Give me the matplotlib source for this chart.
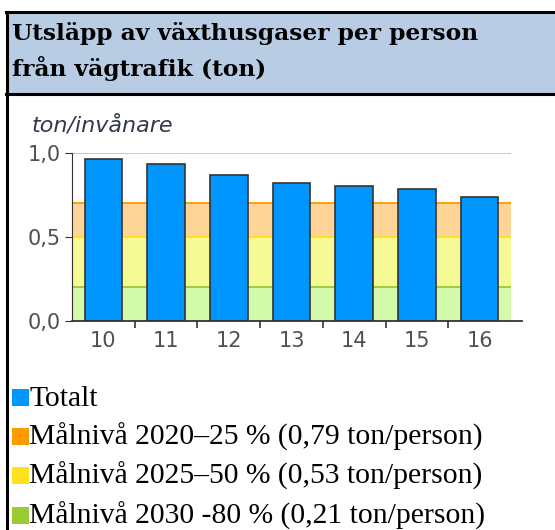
import matplotlib
matplotlib.use('Agg')
import matplotlib.pyplot as plt
from matplotlib.patches import Rectangle
from matplotlib.lines import Line2D

W, H = 555, 530

title_lines = ['Utsläpp av växthusgaser per person', 'från vägtrafik (ton)']
years = ['10', '11', '12', '13', '14', '15', '16']
totalt = [0.96, 0.93, 0.87, 0.82, 0.80, 0.785, 0.735]
# target bands as drawn (top level of each band)
band_tops = [0.70, 0.50, 0.20]
band_fill = ['#FFD597', '#F6FA94', '#D2FAAA']
band_line = ['#FF9900', '#FFE11A', '#99CC33']
yticks = [0.0, 0.5, 1.0]
ytick_labels = ['0,0', '0,5', '1,0']
legend_labels = ['Totalt',
                 'Målnivå 2020–25 % (0,79 ton/person)',
                 'Målnivå 2025–50 % (0,53 ton/person)',
                 'Målnivå 2030 -80 % (0,21 ton/person)']
legend_colors = ['#0096FF', '#FF9900', '#FFE31A', '#99CC33']


def fx(px):
    return px / W


def fy(py):
    return 1 - py / H


fig = plt.figure(figsize=(W / 100, H / 100), dpi=100)

# header box
fig.patches.append(Rectangle((fx(6), fy(94)), fx(W) - fx(6), fy(12) - fy(94),
                             transform=fig.transFigure, facecolor='#B8CCE4',
                             edgecolor='none', zorder=0))
for (x0, y0, x1, y1) in [(6, 12, 560, 12), (6, 94, 560, 94), (6.5, 12, 6.5, 530)]:
    fig.add_artist(Line2D([fx(x0), fx(x1)], [fy(y0), fy(y1)], color='black',
                          lw=2.2, transform=fig.transFigure))
fig.text(fx(12), fy(40), title_lines[0], fontsize=16.8, fontweight='bold',
         family='DejaVu Serif', va='baseline', ha='left')
fig.text(fx(12), fy(76), title_lines[1], fontsize=16.8, fontweight='bold',
         family='DejaVu Serif', va='baseline', ha='left')

# chart
ax = fig.add_axes([fx(72), fy(321), fx(511) - fx(72), fy(152.7) - fy(321)])
x = range(len(years))
for i, (top, fc, lc) in enumerate(zip(band_tops, band_fill, band_line)):
    low = band_tops[i + 1] if i + 1 < len(band_tops) else 0
    ax.axhspan(low, top, color=fc, lw=0, zorder=0)
    ax.axhline(top, color=lc, lw=1.3, zorder=1)
ax.axhline(1.0, color='#C4C4C4', lw=1.3, zorder=1)
ax.bar(x, totalt, 0.6, color='#0096FF', edgecolor='#333333', lw=1.2, zorder=3)

ax.set_xlim(-0.5, len(years) - 0.5)
ax.set_ylim(0, 1.0)
for s in ['top', 'right', 'bottom']:
    ax.spines[s].set_visible(False)
ax.spines['left'].set_color('#333333')
ax.add_line(Line2D([0, 1.025], [0, 0], color='#333333', lw=1.3,
                   transform=ax.transAxes, clip_on=False, zorder=4))
ax.set_yticks(yticks)
ax.set_yticklabels(ytick_labels)
ax.set_xticks(list(x))
ax.set_xticklabels(years)
ax.set_xticks([i + 0.5 for i in range(len(years) - 1)], minor=True)
ax.tick_params(axis='x', which='major', length=0, pad=7, labelsize=15,
               labelcolor='#505050')
ax.tick_params(axis='x', which='minor', length=5, direction='out',
               color='#333333', width=1.2)
ax.tick_params(axis='y', length=5, color='#333333', labelsize=15,
               labelcolor='#505050', pad=3)
ax.set_facecolor('none')
fig.text(fx(32), fy(125), 'ton/invånare', fontsize=16, style='italic',
         color='#33394A', va='center', ha='left')

# legend
leg_base = [406, 445, 484, 524]
for lab, col, yy in zip(legend_labels, legend_colors, leg_base):
    fig.patches.append(Rectangle((fx(12), fy(yy)), fx(17), fy(0) - fy(17),
                                 transform=fig.transFigure, facecolor=col,
                                 edgecolor='none'))
    fig.text(fx(29), fy(yy), lab, fontsize=21.3, family='Liberation Serif',
             va='baseline', ha='left')

fig.savefig('out.png', dpi=100)
